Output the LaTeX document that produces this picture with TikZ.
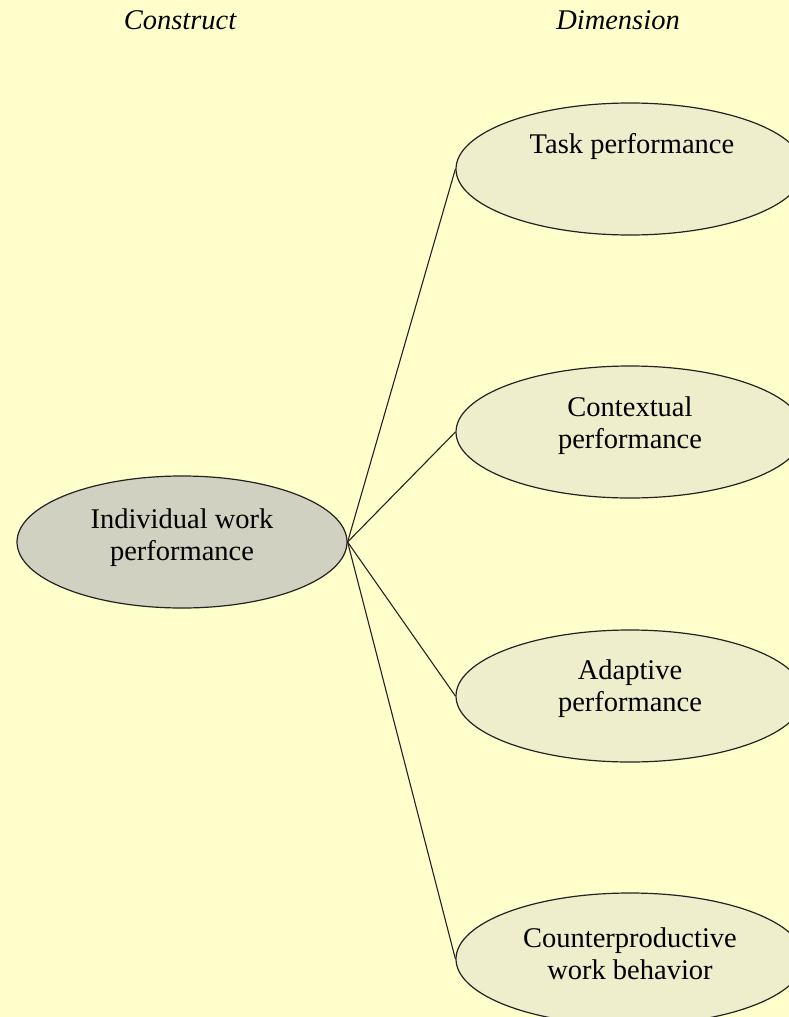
\documentclass[tikz,border=0pt]{standalone}
\usepackage{fontspec}
\setmainfont{Liberation Serif}
\usetikzlibrary{shapes.geometric}
\definecolor{bg}{HTML}{FFFFCC}
\definecolor{leftfill}{HTML}{D1D1C2}
\definecolor{rightfill}{HTML}{EEEECC}
\definecolor{edge}{HTML}{222222}
\tikzset{
  lbl/.style={font=\fontsize{28.5}{32}\selectfont, align=center, inner sep=0pt, text=black},
  hdr/.style={font=\fontsize{28.5}{30}\selectfont\itshape, inner sep=0pt, text=black},
  ell/.style={ellipse, draw=edge, line width=1.2pt, inner sep=0pt},
  constructell/.style={ell, fill=leftfill, minimum width=330pt, minimum height=132pt},
  dimell/.style={ell, fill=rightfill, minimum width=348pt, minimum height=132pt},
  conn/.style={draw=edge, line width=1.1pt}
}
\begin{document}
\begin{tikzpicture}[x=1pt,y=-1pt]
\fill[bg] (0,0) rectangle (789,1017);
\useasboundingbox (0,0) rectangle (789,1017);
\clip (0,0) rectangle (789,1017);
\node[hdr] (hc) at (180,20) {Construct};
\node[hdr] (hd) at (618,20) {Dimension};
\node[constructell] (iwp) at (182,542) {};
\node[dimell] (task) at (630,169) {};
\node[dimell] (ctx) at (630,432) {};
\node[dimell] (adp) at (630,696) {};
\node[dimell] (cwb) at (630,959) {};
\foreach \t in {task,ctx,adp,cwb}{\draw[conn] (iwp.east) -- (\t.west);}
\node[lbl] (tiwp) at (182,538) {Individual work\\performance};
\node[lbl] (ttask) at (632,146) {Task performance};
\node[lbl] (tctx) at (630,426) {Contextual\\performance};
\node[lbl] (tadp) at (630,689) {Adaptive\\performance};
\node[lbl] (tcwb) at (630,954) {Counterproductive\\work behavior};
\end{tikzpicture}
\end{document}
